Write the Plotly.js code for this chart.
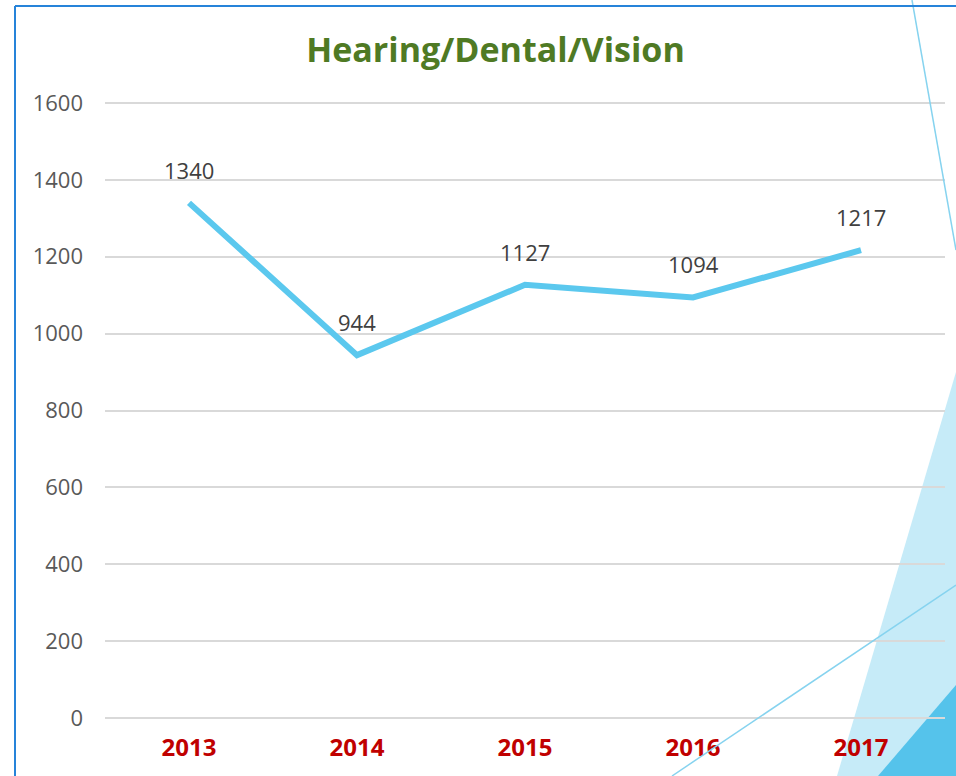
<!DOCTYPE html>
<html><head><meta charset="utf-8">
<script src="https://cdn.plot.ly/plotly-3.0.1.min.js"></script>
<style>html,body{margin:0;padding:0;background:#fff}#chart{width:956px;height:776px}</style>
</head><body><div id="chart"></div>
<script>
const years = ['2013','2014','2015','2016','2017'];
const values = [1340, 944, 1127, 1094, 1217];
const yTicks = [0,200,400,600,800,1000,1200,1400,1600];

const W=956,H=776,L=105,R=11,T=101,B=56;
const pw=W-L-R, ph=H-T-B;
function px(x){return (x-L)/pw;}
function py(y){return (H-B-y)/ph;}

const shapes = [
  {type:'path', xref:'paper', yref:'paper', layer:'below',
   path:`M ${px(956)} ${py(372)} L ${px(837)} ${py(776)} L ${px(956)} ${py(776)} Z`,
   fillcolor:'#c6ebf8', line:{width:0}},
  {type:'path', xref:'paper', yref:'paper', layer:'below',
   path:`M ${px(956)} ${py(685)} L ${px(878)} ${py(776)} L ${px(956)} ${py(776)} Z`,
   fillcolor:'#55c3eb', line:{width:0}},
  {type:'line', xref:'paper', yref:'paper', layer:'above',
   x0:px(672), y0:py(776), x1:px(956), y1:py(585), line:{color:'#86d3ef', width:1.5}},
  {type:'line', xref:'paper', yref:'paper', layer:'above',
   x0:px(912), y0:py(0), x1:px(956), y1:py(250), line:{color:'#86d3ef', width:1.5}},
  {type:'line', xref:'paper', yref:'paper', layer:'above',
   x0:px(15), y0:py(6), x1:px(956), y1:py(6), line:{color:'#2683d9', width:2}},
  {type:'line', xref:'paper', yref:'paper', layer:'above',
   x0:px(15), y0:py(6), x1:px(15), y1:py(776), line:{color:'#2683d9', width:2}}
];

const annotations = years.map((y,i)=>({
  x:i, y:values[i], xref:'x', yref:'y', text:String(values[i]),
  showarrow:false, yanchor:'bottom', yshift:16,
  font:{family:'Open Sans, sans-serif', size:22, color:'#404040'}
}));

const trace = {
  x: years, y: values, type:'scatter', mode:'lines',
  line:{color:'#5bc8ee', width:6}, hoverinfo:'skip'
};

const layout = {
  width:W, height:H,
  margin:{l:L, r:R, t:T, b:B, pad:0},
  paper_bgcolor:'#ffffff', plot_bgcolor:'rgba(0,0,0,0)',
  showlegend:false,
  title:{text:'<b>Hearing/Dental/Vision</b>', x:495.5/W, xref:'container', xanchor:'center',
    y:1-50/H, yref:'container', yanchor:'middle',
    font:{family:'Open Sans, sans-serif', size:34, color:'#4f7a24'}},
  xaxis:{type:'category', range:[-0.5,4.5], showgrid:false, zeroline:false, showline:false,
    ticks:'', ticklabelstandoff:11,
    tickfont:{family:'Open Sans, sans-serif', size:24, color:'#c00000', weight:'bold'}},
  yaxis:{range:[-5,1605], tickvals:yTicks, ticktext:yTicks.map(String), showgrid:true,
    gridcolor:'#d9d9d9', gridwidth:2, zeroline:false, showline:false, ticks:'',
    ticklabelstandoff:21,
    tickfont:{family:'Open Sans, sans-serif', size:22, color:'#595959'}},
  shapes:shapes, annotations:annotations
};
Plotly.newPlot('chart',[trace],layout,{displayModeBar:false, staticPlot:true});
</script></body></html>
